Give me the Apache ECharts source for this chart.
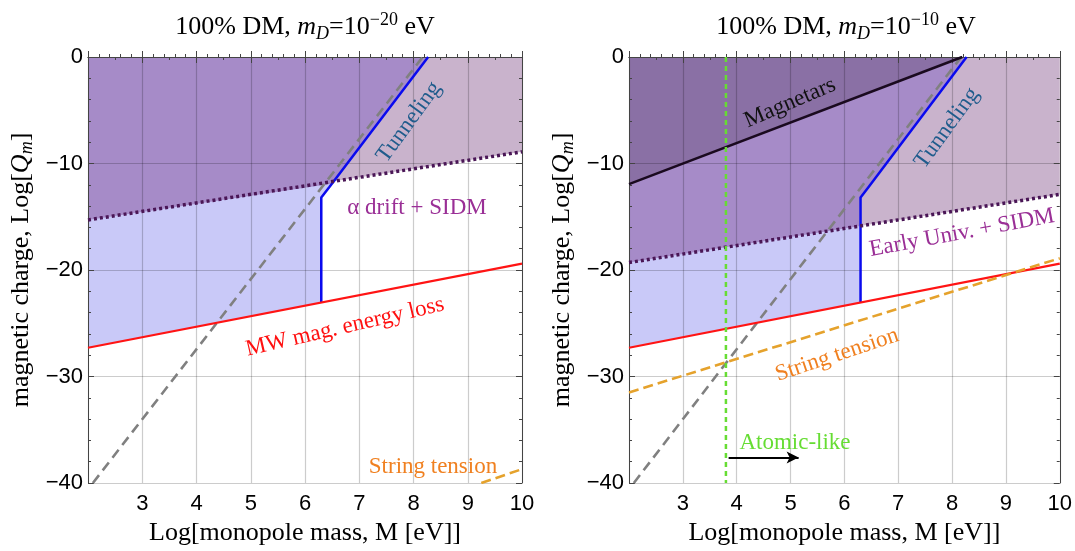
<!DOCTYPE html>
<html>
<head>
<meta charset="utf-8">
<script src="https://cdn.jsdelivr.net/npm/echarts@6/dist/echarts.min.js"></script>
<style>
html,body{margin:0;padding:0;background:#fff}
#chart{width:1075px;height:551px}
</style>
</head>
<body>
<div id="chart"></div>
<script>
// points are [log10 M/eV, log10 Qm]
var mwLoss = [[2,-27.3],[10,-19.4]];
var tunnelEdge = [[6.3,-23.05],[6.3,-13.2],[6.45,-12.2],[8.27,0]];
var tunnelFill = [[2,-27.3],[6.3,-23.05],[6.3,-13.2],[6.45,-12.2],[8.27,0]];
var grayLine = [[2.09,-40],[8.17,0]];
// left panel, m_D = 1e-20 eV
var sidmL = [[2,-15.3],[10,-8.9]];
var overlapL = [[2,-15.3],[6.52,-11.88],[8.27,0]];
var stringL = [[9.25,-40],[10,-38.7]];
// right panel, m_D = 1e-10 eV
var sidmR = [[2,-19.3],[10,-12.9]];
var overlapR = [[2,-19.3],[6.3,-15.86],[6.3,-13.2],[6.45,-12.2],[8.27,0]];
var magnetars = [[2,-11.94],[8.19,0]];
var stringR = [[2,-31.5],[10,-18.9]];
var atomicLine = [[3.8,0],[3.8,-40]];
var atomicArrow = [[3.85,-37.6],[5.15,-37.6]];

var serif = 'Liberation Serif';
var sans = 'Liberation Sans';

function xAxisOf(g, pos){
    var a = {
        type:'value', gridIndex:g, position:pos, min:2, max:10, interval:1, z:3,
        axisLine:{show:true, lineStyle:{color:'#444', width:1}},
        axisTick:{show:true, inside:true, length:6, lineStyle:{color:'#444'}},
        minorTick:{show:true, splitNumber:(pos=='bottom'?5:2), length:3, lineStyle:{color:'#444'}},
        splitLine:{show:false},
        axisLabel:{show:false}
    };
    if(pos=='bottom'){
        a.splitLine = {show:true, lineStyle:{color:'rgba(0,0,0,0.2)', width:1.2}};
        a.axisLabel = {show:true, margin:10, fontFamily:sans, fontSize:22, color:'#000',
            formatter:function(v){ return v==2 ? '' : String(v); }};
        a.name = 'Log[monopole mass, M [eV]]';
        a.nameLocation = 'middle';
        a.nameGap = 37;
        a.nameTextStyle = {fontFamily:serif, fontSize:26, color:'#000'};
    }
    return a;
}
function yAxisOf(g, pos){
    var a = {
        type:'value', gridIndex:g, position:pos, min:-40, max:0, interval:10, z:3,
        axisLine:{show:true, onZero:false, lineStyle:{color:'#444', width:1}},
        axisTick:{show:true, inside:true, length:6, lineStyle:{color:'#444'}},
        minorTick:{show:true, splitNumber:5, length:3, lineStyle:{color:'#444'}},
        splitLine:{show:false},
        axisLabel:{show:false}
    };
    if(pos=='left'){
        a.splitLine = {show:true, lineStyle:{color:'rgba(0,0,0,0.2)', width:1.2}};
        a.axisLabel = {show:true, margin:5, fontFamily:sans, fontSize:22, color:'#000',
            formatter:function(v){ return String(v).replace('-', '\u2212'); }};
        a.name = '{a|magnetic charge, Log[}{q|Q}{s|m}{a|]}';
        a.nameLocation = 'middle';
        a.nameGap = 52;
        a.nameTextStyle = {rich:{
            a:{fontFamily:serif, fontSize:26, color:'#000', lineHeight:30, verticalAlign:'middle'},
            q:{fontFamily:serif, fontSize:26, fontStyle:'italic', color:'#000', lineHeight:30, verticalAlign:'middle'},
            s:{fontFamily:serif, fontSize:18, fontStyle:'italic', color:'#000', lineHeight:18, verticalAlign:'bottom'}
        }};
    }
    return a;
}

function fill(ax, dat, color){
    return {type:'line', xAxisIndex:ax, yAxisIndex:ax, data:dat, showSymbol:false, silent:true, z:1,
        lineStyle:{width:0}, areaStyle:{color:color, opacity:1, origin:'end'}};
}
function curve(ax, dat, color, w, dash){
    return {type:'line', xAxisIndex:ax, yAxisIndex:ax, data:dat, showSymbol:false, silent:true, z:5,
        lineStyle:{color:color, width:w, type:dash||'solid'}};
}

var cMauve = '#c9b3cc', cLav = '#c9c9f8', cMid = '#a68bc8', cDark = '#8a70a5';
var cBlue = '#0a0aee', cRed = '#ff1414', cDot = '#4a1656', cGray = '#808080', cOrange = '#e5a22c';

var series = [
    // left
    fill(0, sidmL, cMauve),
    fill(0, tunnelFill, cLav),
    fill(0, overlapL, cMid),
    curve(0, grayLine, cGray, 2.6, [10,6]),
    curve(0, tunnelEdge, cBlue, 2.5),
    curve(0, mwLoss, cRed, 2.2),
    curve(0, sidmL, cDot, 3.5, [3,3]),
    curve(0, stringL, cOrange, 2.6, [10,5]),
    // right
    fill(2, sidmR, cMauve),
    fill(2, tunnelFill, cLav),
    fill(2, overlapR, cMid),
    fill(2, magnetars, cDark),
    curve(2, grayLine, cGray, 2.6, [10,6]),
    curve(2, tunnelEdge, cBlue, 2.5),
    curve(2, mwLoss, cRed, 2.2),
    curve(2, stringR, cOrange, 2.6, [10,5]),
    curve(2, sidmR, cDot, 3.5, [3,3]),
    curve(2, magnetars, '#1a0a1f', 2.5),
    curve(2, atomicLine, '#66dd33', 2.5, [5,4]),
    {type:'line', xAxisIndex:2, yAxisIndex:2, data:[], silent:true,
        markLine:{silent:true, animation:false, symbol:['none','arrow'], symbolSize:[9,12],
            label:{show:false}, lineStyle:{color:'#000', width:1.8, type:'solid'},
            emphasis:{disabled:true},
            data:[[{coord:atomicArrow[0]},{coord:atomicArrow[1]}]]}}
];

function titleText(cx, pow){
    return {type:'text', x:cx, y:27, style:{
        text:'{a|100% DM, }{i|m}{s|D}{a|=10}{p|\u2212' + pow + '}{a| eV}',
        align:'center', verticalAlign:'middle', textAlign:'center', textVerticalAlign:'middle',
        rich:{
            a:{fontFamily:serif, fontSize:26, fill:'#000', lineHeight:32, verticalAlign:'middle'},
            i:{fontFamily:serif, fontSize:26, fontStyle:'italic', fill:'#000', lineHeight:32, verticalAlign:'middle'},
            s:{fontFamily:serif, fontSize:18, fontStyle:'italic', fill:'#000', lineHeight:18, verticalAlign:'bottom'},
            p:{fontFamily:serif, fontSize:18, fill:'#000', lineHeight:18, verticalAlign:'top'}
        }}};
}
function label(txt, x, y, deg, color){
    return {type:'text', x:x, y:y, rotation:deg*Math.PI/180, z:10, style:{
        text:txt, fill:color, font:'23px "Liberation Serif"',
        align:'center', verticalAlign:'middle', textAlign:'center', textVerticalAlign:'middle'}};
}

var myChart = echarts.init(document.getElementById('chart'));
var option = {
    animation:false,
    grid:[
        {left:88, top:57, width:434, height:434},
        {left:629, top:57, width:433, height:434}
    ],
    xAxis:[xAxisOf(0,'bottom'), xAxisOf(0,'top'), xAxisOf(1,'bottom'), xAxisOf(1,'top')],
    yAxis:[yAxisOf(0,'left'), yAxisOf(0,'right'), yAxisOf(1,'left'), yAxisOf(1,'right')],
    series:series,
    graphic:[
        titleText(305, '20'),
        titleText(846, '10'),
        label('Tunneling', 409, 122, 54, '#1f5c8c'),
        label('\u03b1 drift + SIDM', 417, 208, 0, '#9a2f96'),
        label('MW mag. energy loss', 345, 327, 13, '#ff1010'),
        label('String tension', 433, 467, 0, '#f08020'),
        label('Magnetars', 790, 103, 23, '#111111'),
        label('Tunneling', 947, 128, 54, '#1f5c8c'),
        label('Early Univ. + SIDM', 962, 233, 10.5, '#9a2f96'),
        label('String tension', 837, 355, 18.5, '#f08020'),
        label('Atomic-like', 795, 443, 0, '#66dd33')
    ]
};
myChart.setOption(option);
</script>
</body>
</html>
